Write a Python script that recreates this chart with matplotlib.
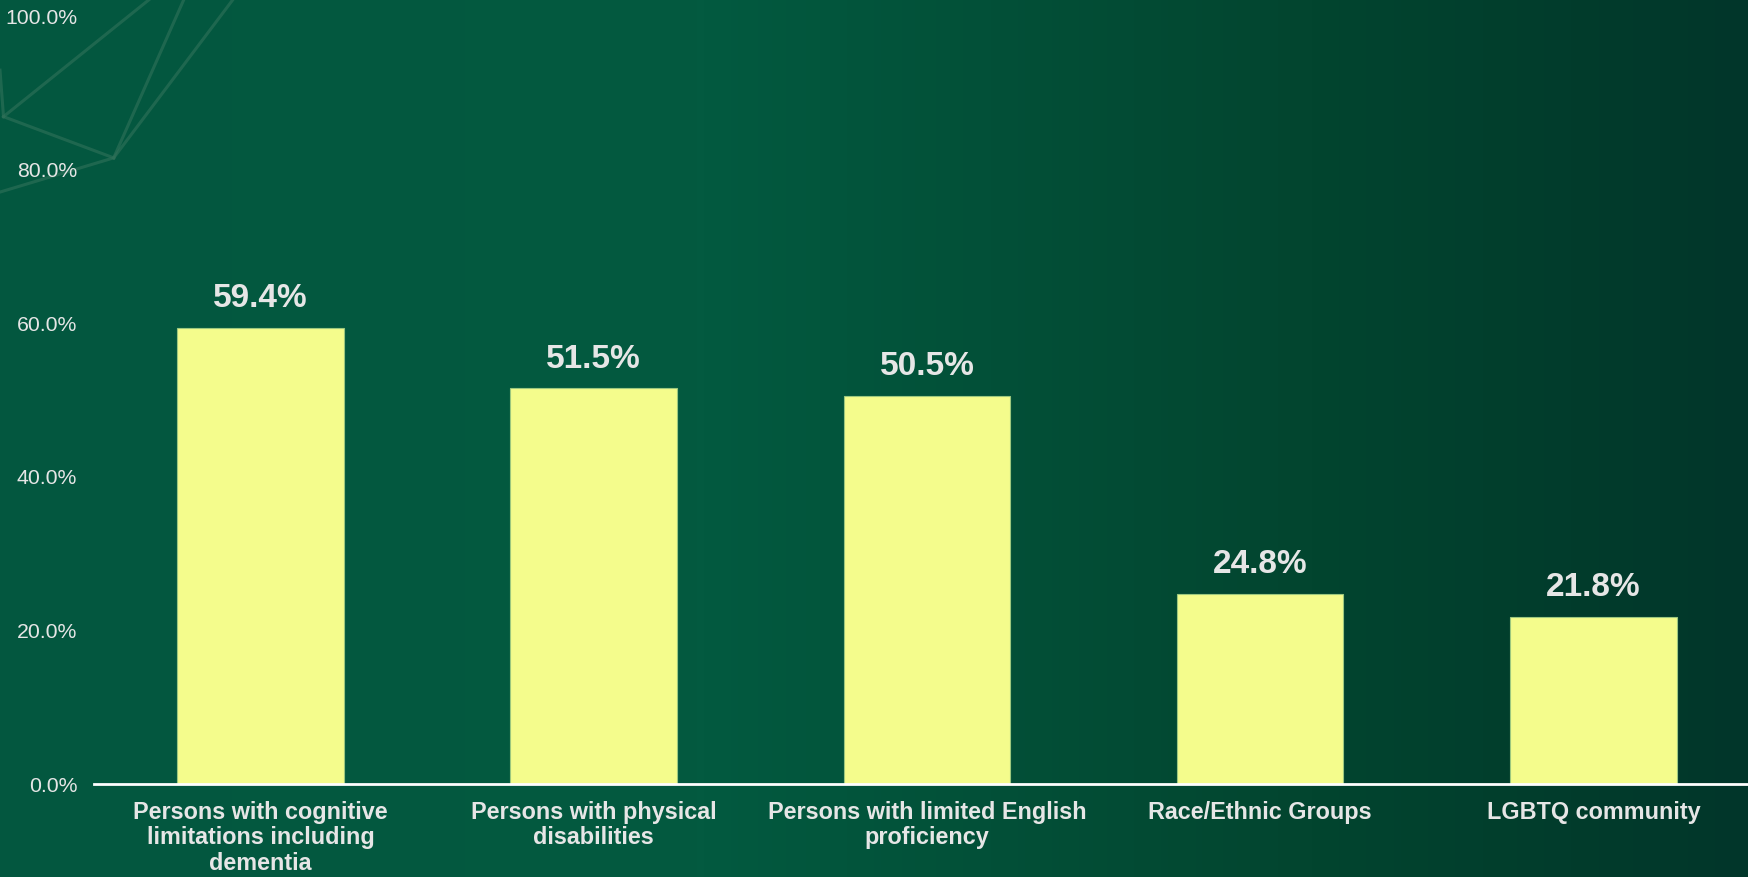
import matplotlib.pyplot as plt
import numpy as np
from matplotlib.colors import LinearSegmentedColormap
from matplotlib.ticker import FuncFormatter

categories = ['Persons with cognitive\nlimitations including\ndementia',
              'Persons with physical\ndisabilities',
              'Persons with limited English\nproficiency',
              'Race/Ethnic Groups',
              'LGBTQ community']
values = [59.4, 51.5, 50.5, 24.8, 21.8]
yticks = [0, 20, 40, 60, 80, 100]

plt.rcParams['font.family'] = ['Liberation Sans', 'DejaVu Sans']
text_col = '#E6E6E6'

fig = plt.figure(figsize=(17.49, 8.77), dpi=100)

# background gradient
bg = fig.add_axes([0, 0, 1, 1])
cmap_bg = LinearSegmentedColormap.from_list(
    'bg', [(0, '#03573F'), (0.4, '#035A40'), (0.75, '#02452F'), (1, '#01362A')])
grad = np.linspace(0, 1, 512).reshape(1, -1)
bg.imshow(grad, aspect='auto', cmap=cmap_bg, extent=[0, 1, 0, 1])
# faint decorative lines top left
line_col = '#2E7058'
segs = [((0, 0.92), (0.002, 0.867)), ((0.002, 0.867), (0.085, 1.0)),
        ((0.002, 0.867), (0.065, 0.82)), ((0.065, 0.82), (0.105, 1.0)),
        ((0.065, 0.82), (0.133, 1.0)), ((0.065, 0.82), (0.0, 0.781))]
for a, b in segs:
    bg.plot([a[0], b[0]], [a[1], b[1]], color=line_col, lw=2.2, alpha=0.65)
bg.set_xlim(0, 1)
bg.set_ylim(0, 1)
bg.axis('off')

ax = fig.add_axes([94 / 1749, 1 - 784 / 877, (1760 - 94) / 1749, 768 / 877])
ax.patch.set_alpha(0)
x = np.arange(len(values))
ax.bar(x, values, width=0.5, color='#F4FC8C', edgecolor='#9CC77E', linewidth=0.8, zorder=2)
for xi, v in zip(x, values):
    ax.annotate(f'{v:.1f}%', (xi, v), xytext=(0, 10), textcoords='offset points',
                ha='center', va='bottom', fontsize=24, fontweight='bold', color=text_col)

ax.set_xlim(-0.5, 4.5)
ax.set_ylim(0, 100)
ax.set_yticks(yticks)
ax.yaxis.set_major_formatter(FuncFormatter(lambda v, p: f'{v:.1f}%'))
ax.set_xticks(x)
ax.set_xticklabels(categories, fontsize=16.8, fontweight='bold', color=text_col,
                   linespacing=1.15)
ax.tick_params(axis='y', length=0, pad=12, labelsize=15.3, labelcolor=text_col)
ax.tick_params(axis='x', length=0, pad=12)
for s in ['top', 'right', 'left']:
    ax.spines[s].set_visible(False)
ax.spines['bottom'].set_color('white')
ax.spines['bottom'].set_linewidth(2)

fig.savefig('out.png', dpi=100)
